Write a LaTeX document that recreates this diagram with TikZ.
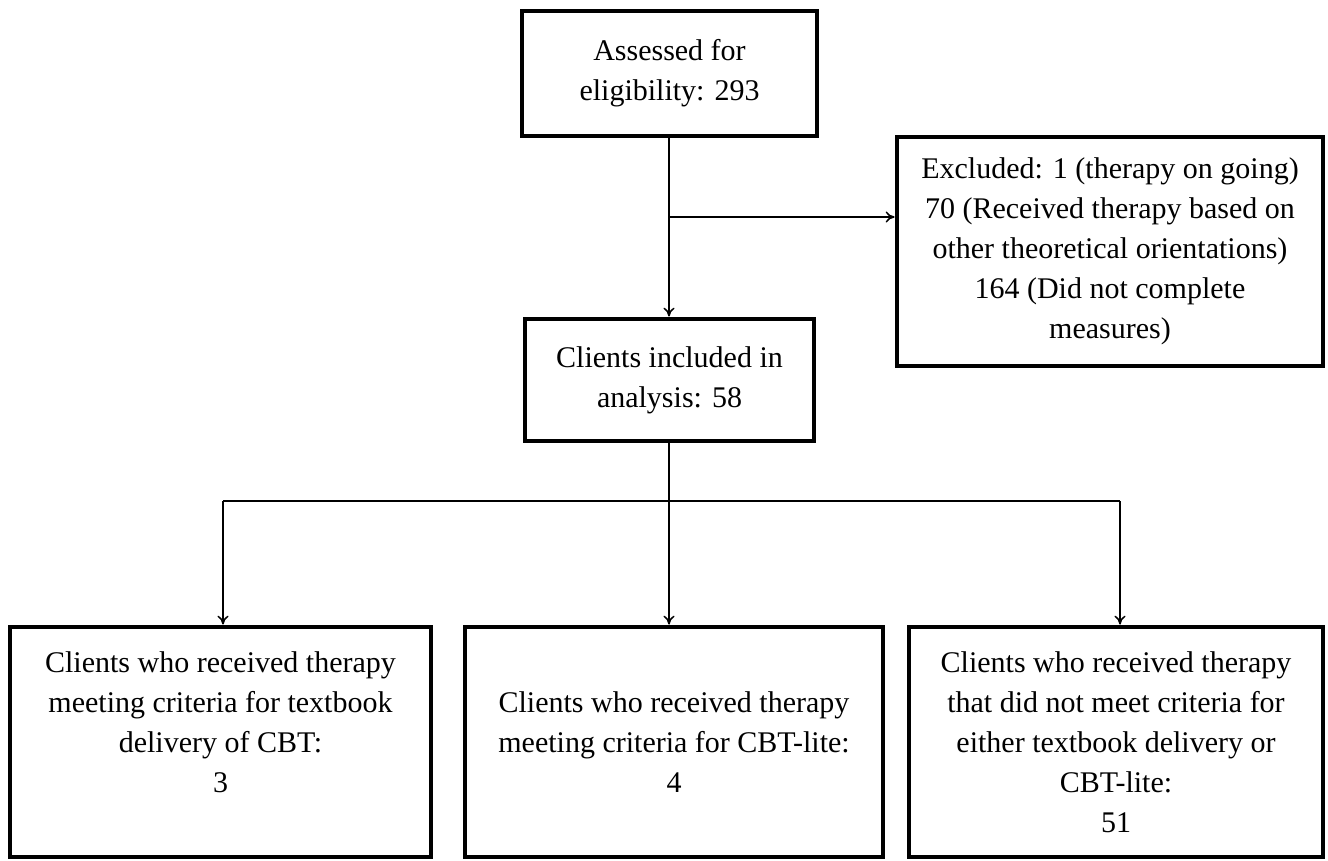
\documentclass[tikz,border=0pt]{standalone}
\usepackage{fontspec}
\setmainfont{Liberation Serif}
\usetikzlibrary{arrows.meta}

\tikzset{
  box/.style={draw, line width=2.4pt, align=center, inner sep=0pt,
    font=\fontsize{15}{20}\selectfont},
  link/.style={line width=0.75pt},
  arr/.style={link, -{To[length=4.5pt,width=5.5pt]}}
}

\begin{document}
\begin{tikzpicture}[x=0.5pt,y=-0.5pt]
  \useasboundingbox (0,0) rectangle (1328,861);
  % top of the chart
  \node[box, minimum width=147.5pt, minimum height=62.5pt] (assess) at (669.5,73.5)
    {Assessed for\\eligibility: 293};
  \node[box, minimum width=213pt, minimum height=114.5pt] (excl) at (1110,251.5)
    {Excluded: 1 (therapy on going)\\70 (Received therapy based on\\other theoretical orientations)\\164 (Did not complete\\measures)};
  \node[box, minimum width=144.5pt, minimum height=61pt] (incl) at (669.5,380)
    {Clients included in\\analysis: 58};
  % three groups
  \node[box, minimum width=210.5pt, minimum height=115pt] (textbook) at (220.5,742)
    {Clients who received therapy\\meeting criteria for textbook\\delivery of CBT:\\3\\\mbox{}};
  \node[box, minimum width=209pt, minimum height=115pt] (lite) at (674,742)
    {Clients who received therapy\\meeting criteria for CBT-lite:\\4};
  \node[box, minimum width=207pt, minimum height=115pt] (other) at (1116,742)
    {Clients who received therapy\\that did not meet criteria for\\either textbook delivery or\\CBT-lite:\\51};

  \coordinate (fork) at (669,217);
  \coordinate (split) at (669,501);
  \coordinate (sl) at (223,501);
  \coordinate (sr) at (1120,501);

  \draw[arr] (assess.south -| fork) -- (incl.north -| fork);
  \draw[arr] (fork) -- (fork -| excl.west);
  \draw[link] (incl.south -| split) -- (split);
  \draw[link] (sl) -- (sr);
  \draw[arr] (sl) -- (sl |- textbook.north);
  \draw[arr] (split) -- (split |- lite.north);
  \draw[arr] (sr) -- (sr |- other.north);
\end{tikzpicture}
\end{document}
